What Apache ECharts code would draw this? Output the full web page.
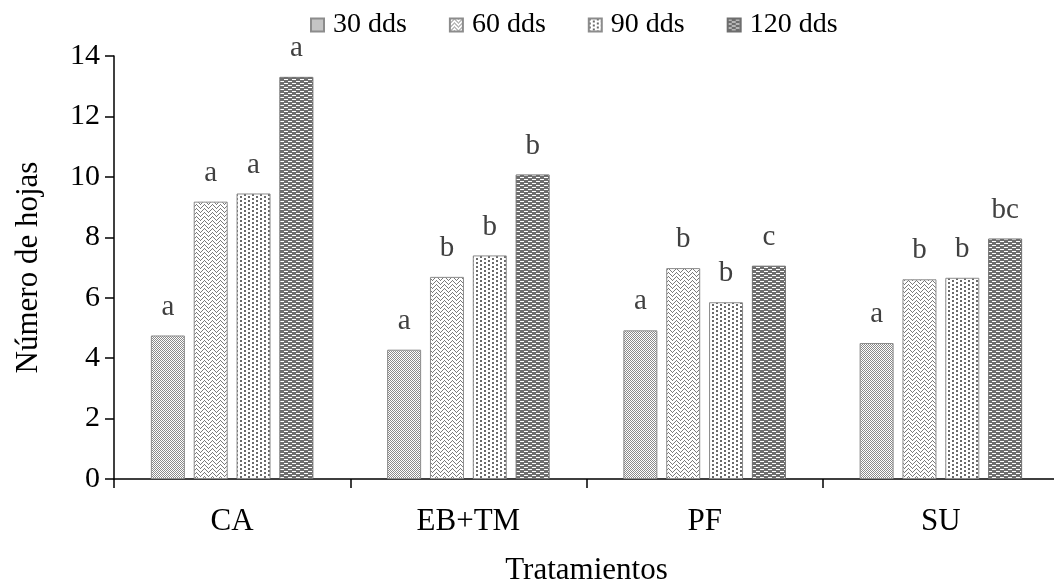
<!DOCTYPE html>
<html>
<head>
<meta charset="utf-8">
<script src="https://cdn.jsdelivr.net/npm/echarts@6/dist/echarts.min.js"></script>
<style>html,body{margin:0;padding:0;background:#fff;}#c{width:1054px;height:584px;}</style>
</head>
<body>
<div id="c"></div>
<script>
var categories = ['CA', 'EB+TM', 'PF', 'SU'];
var seriesNames = ['30 dds', '60 dds', '90 dds', '120 dds'];
var s30 = [4.75, 4.28, 4.92, 4.50];
var s60 = [9.18, 6.69, 6.98, 6.61];
var s90 = [9.45, 7.40, 5.85, 6.66];
var s120 = [13.31, 10.08, 7.06, 7.96];
var l30 = ['a', 'a', 'a', 'a'];
var l60 = ['a', 'b', 'b', 'b'];
var l90 = ['a', 'b', 'b', 'b'];
var l120 = ['a', 'b', 'c', 'bc'];
var yTicks = [0, 2, 4, 6, 8, 10, 12, 14];

function makePattern(w, h, bg, fg, test) {
  var c = document.createElement('canvas');
  c.width = w; c.height = h;
  var ctx = c.getContext('2d');
  ctx.fillStyle = bg; ctx.fillRect(0, 0, w, h);
  ctx.fillStyle = fg;
  for (var y = 0; y < h; y++) for (var x = 0; x < w; x++) if (test(x, y)) ctx.fillRect(x, y, 1, 1);
  return { image: c, repeat: 'repeat' };
}
var p30 = makePattern(2, 2, '#ffffff', '#8a8a8a', function (x, y) { return (x + y) % 2 === 0; });
var p60 = makePattern(8, 8, '#ffffff', '#7a7a7a', function (x, y) {
  return x < 4 ? ((x + y) % 4 === 0) : (((x - y) % 4 + 4) % 4 === 0);
});
var p90 = makePattern(8, 8, '#ffffff', '#6a6a6a', function (x, y) {
  var a = (x % 8 < 2) && (y % 4 < 2);
  var b = (x % 8 >= 4 && x % 8 < 6) && ((y + 2) % 4 < 2);
  return a || b;
});
var p120 = makePattern(8, 4, '#6e6e6e', '#ffffff', function (x, y) {
  return (y === 1 && x < 4) || (y === 3 && x >= 4);
});

var patterns = [p30, p60, p90, p120];
var data = [s30, s60, s90, s120];
var letters = [l30, l60, l90, l120];
var FONT = 'Liberation Serif';

var series = data.map(function (d, i) {
  return {
    name: seriesNames[i],
    type: 'bar',
    data: d,
    barWidth: 34,
    barGap: '26%',
    itemStyle: { color: patterns[i], borderColor: i === 3 ? '#6e6e6e' : '#8c8c8c', borderWidth: 1 },
    label: {
      show: true, position: 'top', distance: 14,
      fontFamily: FONT, fontSize: 29, color: '#404040',
      formatter: function (p) { return letters[i][p.dataIndex]; }
    }
  };
});

var chart = echarts.init(document.getElementById('c'), null, { renderer: 'canvas' });
chart.setOption({
  animation: false,
  backgroundColor: '#fff',
  textStyle: { fontFamily: FONT },
  legend: {
    top: 6, left: 305,
    icon: 'rect',
    itemWidth: 13, itemHeight: 13, itemGap: 42,
    textStyle: { fontFamily: FONT, fontSize: 28, color: '#000', padding: [0, 0, 0, 4] },
    data: seriesNames
  },
  grid: { left: 114, right: -5, top: 56, bottom: 105, containLabel: false, outerBoundsMode: 'none' },
  xAxis: {
    type: 'category', data: categories,
    name: 'Tratamientos', nameLocation: 'middle', nameGap: 76,
    nameTextStyle: { fontFamily: FONT, fontSize: 31, color: '#000' },
    axisLine: { lineStyle: { color: '#000', width: 1.5 } },
    axisTick: { show: true, length: 9, lineStyle: { color: '#000', width: 1.5 } },
    axisLabel: { fontFamily: FONT, fontSize: 31, color: '#000', margin: 27 }
  },
  yAxis: {
    type: 'value', min: 0, max: 14, interval: 2,
    name: 'Número de hojas', nameLocation: 'middle', nameGap: 70,
    nameTextStyle: { fontFamily: FONT, fontSize: 31, color: '#000' },
    axisLine: { show: true, lineStyle: { color: '#000', width: 1.5 } },
    axisTick: { show: true, length: 9, lineStyle: { color: '#000', width: 1.5 } },
    splitLine: { show: false },
    axisLabel: { fontFamily: FONT, fontSize: 30, color: '#000', margin: 14,
      formatter: function (v) { return yTicks.indexOf(v) >= 0 ? String(v) : ''; } }
  },
  series: series
});
</script>
</body>
</html>
